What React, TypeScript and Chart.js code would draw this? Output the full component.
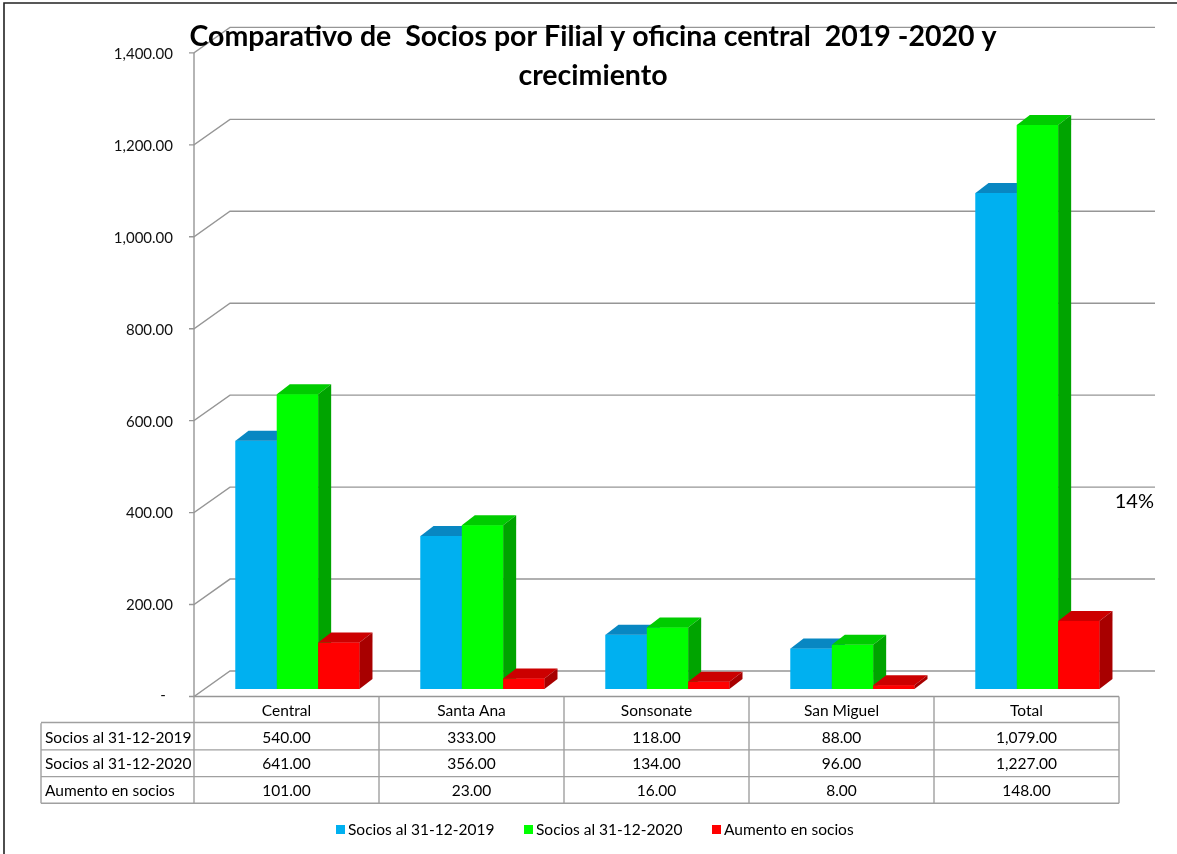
import React, { useEffect, useRef } from 'react';
import { Chart, registerables } from 'chart.js';

Chart.register(...registerables);

// ---------- data ----------
const categories = ['Central', 'Santa Ana', 'Sonsonate', 'San Miguel', 'Total'];
const seriesNames = ['Socios al 31-12-2019', 'Socios al 31-12-2020', 'Aumento en socios'];
const socios2019 = [540, 333, 118, 88, 1079];
const socios2020 = [641, 356, 134, 96, 1227];
const aumento = [101, 23, 16, 8, 148];
const yTicks = [0, 200, 400, 600, 800, 1000, 1200, 1400];
const titleLines = ['Comparativo de  Socios por Filial y oficina central  2019 -2020 y', 'crecimiento'];
const growthLabel = '14%';

// ---------- styles ----------
const frontColors = ['#00B0F0', '#00FF00', '#FF0000'];
const topColors = ['#0887C2', '#00CC00', '#CC0000'];
const sideColors = ['#067FB5', '#00A400', '#A80000'];
const FONT = 'Lato, "Liberation Sans", sans-serif';
const GRID = '#969696';
const DEPTH_X = 13;
const DEPTH_Y = -10;
const FRONT_DX = -11;
const FRONT_DY = 7.5;
const BACK_DX = 25;
const BACK_DY = -18;

const fmt = (v: number) =>
  v === 0 ? '-' : v.toLocaleString('en-US', { minimumFractionDigits: 2, maximumFractionDigits: 2 });

const seriesData = [socios2019, socios2020, aumento];

const threeDPlugin = {
  id: 'threeD',
  beforeDatasetsDraw(chart: any) {
    const { ctx } = chart;
    const xs = chart.scales.x;
    const ys = chart.scales.y;
    const left = xs.left + FRONT_DX;
    const right = xs.right + FRONT_DX;
    const backLeft = xs.left + BACK_DX;
    const backRight = xs.right + BACK_DX;
    ctx.save();
    ctx.strokeStyle = GRID;
    ctx.lineWidth = 1.4;
    ctx.font = `15px ${FONT}`;
    ctx.fillStyle = '#111';
    ctx.textBaseline = 'middle';
    yTicks.forEach((v) => {
      const yb = ys.getPixelForValue(v);
      const yf = yb + FRONT_DY;
      const yk = yb + BACK_DY;
      ctx.beginPath();
      ctx.moveTo(left - 5, yf);
      ctx.lineTo(left, yf);
      ctx.lineTo(backLeft, yk);
      ctx.lineTo(backRight, yk);
      ctx.stroke();
      if (v === 0) {
        ctx.textAlign = 'center';
        ctx.fillText('-', left - 31, yf - 1);
      } else {
        ctx.textAlign = 'right';
        ctx.fillText(fmt(v), left - 21, yf + 1);
      }
    });
    // front vertical axis
    const yTop = ys.getPixelForValue(yTicks[yTicks.length - 1]) + FRONT_DY;
    const yBot = ys.getPixelForValue(0) + FRONT_DY;
    ctx.beginPath();
    ctx.moveTo(left, yTop);
    ctx.lineTo(left, yBot);
    ctx.lineTo(right, yBot);
    ctx.stroke();
    ctx.restore();
  },
  afterDatasetsDraw(chart: any) {
    const { ctx } = chart;
    ctx.save();
    const n = categories.length;
    for (let i = 0; i < n; i++) {
      for (let d = 0; d < seriesData.length; d++) {
        const el: any = chart.getDatasetMeta(d).data[i];
        const l = el.x - el.width / 2;
        const r = el.x + el.width / 2;
        const t = el.y;
        const b = el.base;
        // front
        ctx.fillStyle = frontColors[d];
        ctx.fillRect(l, t, r - l, b - t);
        // top
        ctx.fillStyle = topColors[d];
        ctx.beginPath();
        ctx.moveTo(l, t);
        ctx.lineTo(l + DEPTH_X, t + DEPTH_Y);
        ctx.lineTo(r + DEPTH_X, t + DEPTH_Y);
        ctx.lineTo(r, t);
        ctx.closePath();
        ctx.fill();
        // side
        ctx.fillStyle = sideColors[d];
        ctx.beginPath();
        ctx.moveTo(r, t);
        ctx.lineTo(r + DEPTH_X, t + DEPTH_Y);
        ctx.lineTo(r + DEPTH_X, b + DEPTH_Y);
        ctx.lineTo(r, b);
        ctx.closePath();
        ctx.fill();
      }
    }
    ctx.restore();
  },
  afterDraw(chart: any) {
    const { ctx } = chart;
    const xs = chart.scales.x;
    const ys = chart.scales.y;
    const left = xs.left + FRONT_DX;
    const right = xs.right + FRONT_DX;
    const colW = (xs.right - xs.left) / categories.length;
    const top = ys.getPixelForValue(0) + FRONT_DY;
    const rowH = 26.7;
    const labelLeft = 41;
    ctx.save();
    // table grid
    ctx.strokeStyle = '#A0A0A0';
    ctx.lineWidth = 1.4;
    ctx.beginPath();
    for (let r = 1; r <= seriesData.length + 1; r++) {
      const yy = top + r * rowH - (r === 1 ? 0.7 : 0);
      ctx.moveTo(labelLeft, yy);
      ctx.lineTo(right, yy);
    }
    const bottom = top + (seriesData.length + 1) * rowH;
    ctx.moveTo(labelLeft, top + rowH);
    ctx.lineTo(labelLeft, bottom);
    for (let c = 0; c <= categories.length; c++) {
      const xx = left + c * colW;
      ctx.moveTo(xx, top);
      ctx.lineTo(xx, bottom);
    }
    ctx.stroke();
    // table text
    ctx.fillStyle = '#000';
    ctx.font = `15.5px ${FONT}`;
    ctx.textBaseline = 'middle';
    ctx.textAlign = 'center';
    categories.forEach((c, i) => {
      ctx.fillText(c, left + (i + 0.5) * colW, top + rowH / 2 + 1);
    });
    seriesData.forEach((arr, r) => {
      const cy = top + (r + 1.5) * rowH + 1;
      ctx.textAlign = 'left';
      ctx.fillText(seriesNames[r], labelLeft + 4, cy);
      ctx.textAlign = 'center';
      arr.forEach((v, i) => ctx.fillText(fmt(v), left + (i + 0.5) * colW, cy));
    });
    // legend
    const legendY = 830;
    const legendX = [336, 524, 712];
    ctx.font = `15.5px ${FONT}`;
    ctx.textAlign = 'left';
    seriesNames.forEach((s, i) => {
      ctx.fillStyle = frontColors[i];
      ctx.fillRect(legendX[i], legendY - 5, 9, 9);
      ctx.fillStyle = '#000';
      ctx.fillText(s, legendX[i] + 12, legendY);
    });
    // growth label
    ctx.font = `20px ${FONT}`;
    ctx.textAlign = 'right';
    ctx.fillText(growthLabel, 1154, 502);
    // title
    ctx.font = `bold 28.5px ${FONT}`;
    ctx.textAlign = 'center';
    ctx.fillText(titleLines[0], 593, 37);
    ctx.fillText(titleLines[1], 593, 76);
    // frame
    ctx.strokeStyle = '#222';
    ctx.lineWidth = 1.6;
    ctx.beginPath();
    ctx.moveTo(4, 854);
    ctx.lineTo(4, 3);
    ctx.lineTo(1177, 3);
    ctx.stroke();
    ctx.restore();
  },
};

export default function App() {
  const ref = useRef<HTMLCanvasElement | null>(null);
  useEffect(() => {
    if (!ref.current) return;
    const chart = new Chart(ref.current, {
      type: 'bar',
      data: {
        labels: categories,
        datasets: seriesData.map((arr, i) => ({
          label: seriesNames[i],
          data: arr,
          backgroundColor: frontColors[i],
          borderWidth: 0,
          categoryPercentage: 0.67,
          barPercentage: 1,
        })),
      },
      options: {
        responsive: false,
        animation: false,
        devicePixelRatio: 1,
        layout: { padding: { left: 205, right: 47, top: 45.4, bottom: 165 } },
        scales: {
          x: { display: false },
          y: { display: false, min: 0, max: 1400 },
        },
        plugins: {
          legend: { display: false },
          tooltip: { enabled: false },
          title: { display: false },
        },
      },
      plugins: [threeDPlugin],
    });
    return () => chart.destroy();
  }, []);
  return (
    <div style={{ position: 'fixed', left: 0, top: 0, width: 1177, height: 854, background: '#fff' }}>
      <canvas ref={ref} width={1177} height={854} style={{ display: 'block', width: 1177, height: 854 }} />
    </div>
  );
}
